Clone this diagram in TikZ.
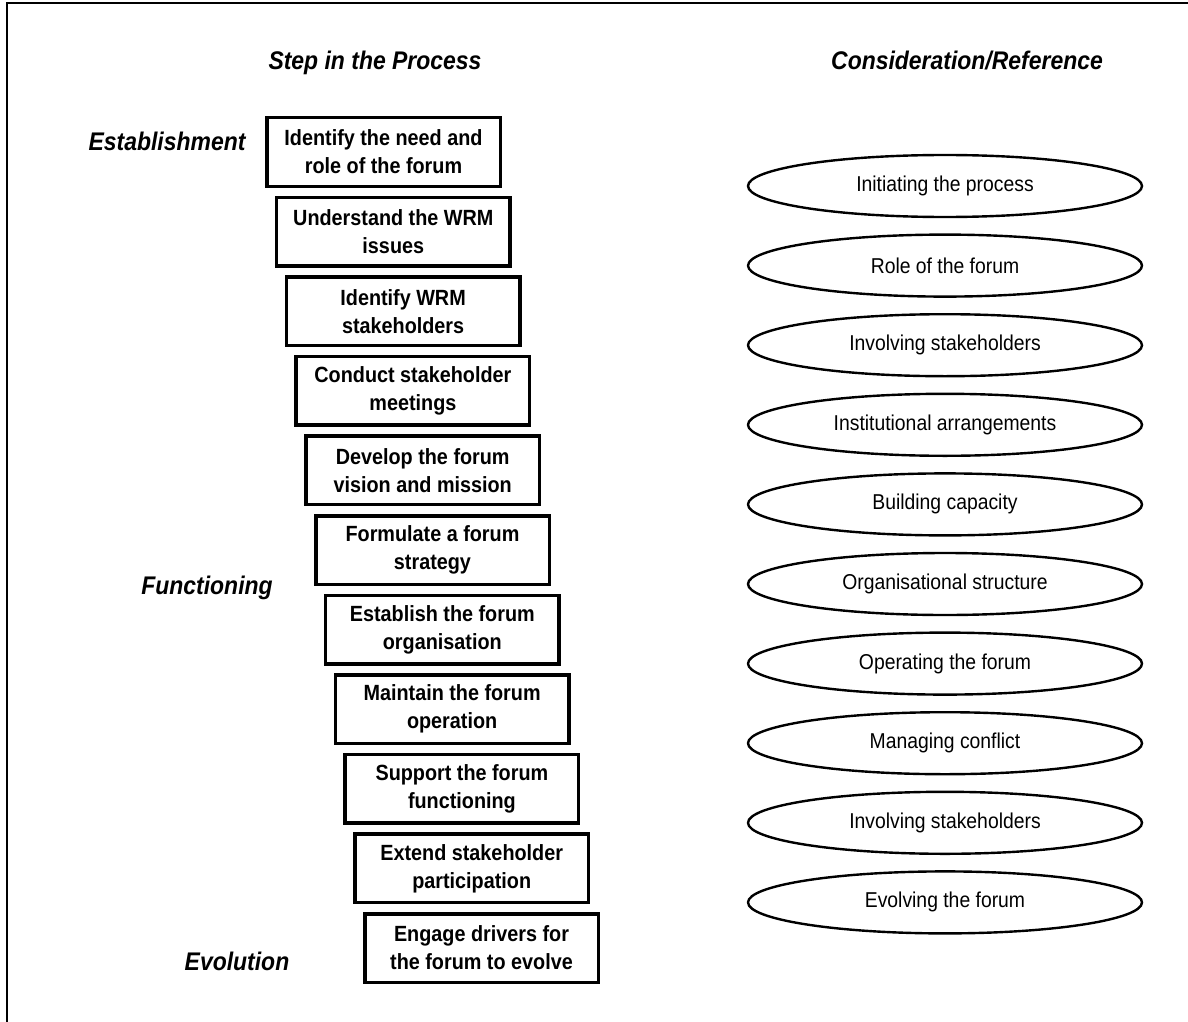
\documentclass[tikz,border=0pt]{standalone}
\usepackage{fontspec}
\setmainfont{Liberation Sans}
\newfontfamily\narrowfont[FakeStretch=0.9]{Liberation Sans}
\usetikzlibrary{shapes}

\begin{document}
\begin{tikzpicture}[x=1pt, y=-1pt,
	stepbox/.style={draw, line width=3.5pt, minimum width=233.5pt, minimum height=68.5pt, inner sep=0pt, align=center, font=\narrowfont\fontsize{22}{28}\selectfont\bfseries},
	refoval/.style={draw, ellipse, line width=2.4pt, minimum width=394pt, minimum height=62pt, inner sep=0pt, font=\narrowfont\fontsize{21.5}{25}\selectfont},
	phase/.style={anchor=base, font=\narrowfont\fontsize{25.5}{30}\selectfont\bfseries\itshape}]
\useasboundingbox (0,0) rectangle (1188,1022);

% frame
\draw[line width=2pt] (7,1022) -- (7,3) -- (1188,3);

\node[phase] (stephead) at (375,70) {Step in the Process};
\node[phase] (conshead) at (967,70) {Consideration/Reference};

\node[phase] (establish) at (167,150) {Establishment};
\node[phase] (function) at (207,594) {Functioning};
\node[phase] (evolve) at (237,970) {Evolution};

% the staircase of steps
\foreach \txt [count=\i] in {{Identify the need and\\role of the forum},
	{Understand the WRM\\issues},
	{Identify WRM\\stakeholders},
	{Conduct stakeholder\\meetings},
	{Develop the forum\\vision and mission},
	{Formulate a forum\\strategy},
	{Establish the forum\\organisation},
	{Maintain the forum\\operation},
	{Support the forum\\functioning},
	{Extend stakeholder\\participation},
	{Engage drivers for\\the forum to evolve}}
	\node[stepbox] (step\i) at (373.7+9.8*\i, 72.4+79.6*\i) {\txt};

% considerations
\foreach \txt [count=\j] in {Initiating the process, Role of the forum,
	Involving stakeholders, Institutional arrangements, Building capacity,
	Organisational structure, Operating the forum, Managing conflict,
	Involving stakeholders, Evolving the forum}
	\node[refoval] (ref\j) at (945, 106.4+79.6*\j) {\txt};

\end{tikzpicture}
\end{document}
